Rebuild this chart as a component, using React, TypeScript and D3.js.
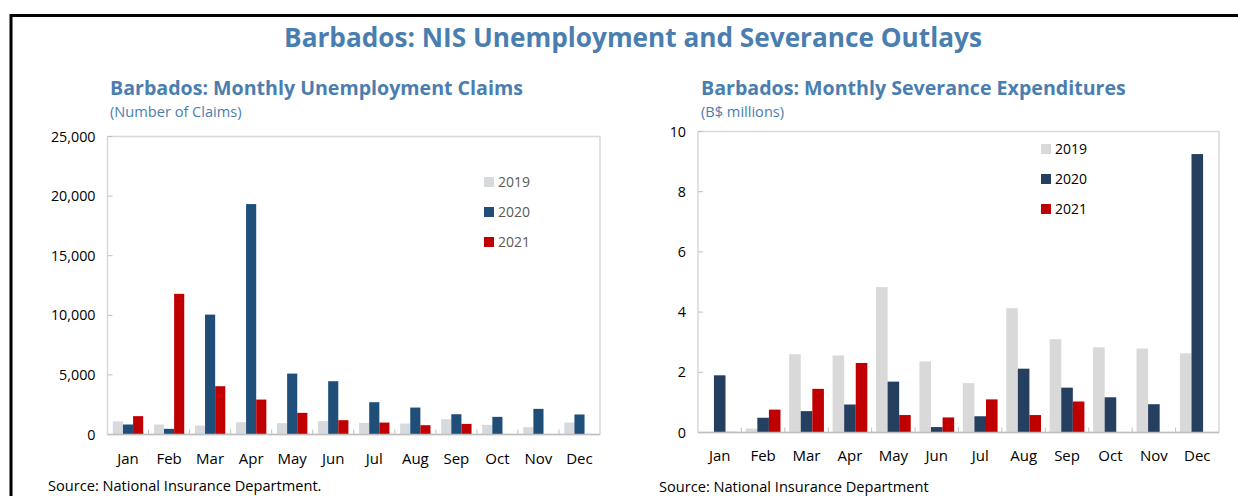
import React from "react";
import * as d3 from "d3";

const months = ["Jan","Feb","Mar","Apr","May","Jun","Jul","Aug","Sep","Oct","Nov","Dec"];
const years = ["2019","2020","2021"];

const claims2019 = [1100, 840, 750, 1030, 950, 1120, 980, 920, 1285, 810, 615, 1005];
const claims2020 = [840, 475, 10060, 19330, 5110, 4470, 2710, 2260, 1700, 1480, 2150, 1680];
const claims2021 = [1540, 11800, 4050, 2930, 1815, 1200, 1000, 780, 890, null, null, null];

const sev2019 = [0, 0.13, 2.6, 2.56, 4.83, 2.36, 1.64, 4.13, 3.1, 2.83, 2.79, 2.63];
const sev2020 = [1.9, 0.49, 0.71, 0.93, 1.69, 0.18, 0.54, 2.12, 1.49, 1.17, 0.94, 9.25];
const sev2021 = [0.02, 0.76, 1.45, 2.31, 0.58, 0.5, 1.1, 0.58, 1.03, null, null, null];

const claimTicks = [0, 5000, 10000, 15000, 20000, 25000];
const sevTicks = [0, 2, 4, 6, 8, 10];

const FONT = "'Open Sans', 'Noto Sans', sans-serif";
const TITLE_BLUE = "#4a7eb0";

type PanelProps = {
  x0: number; x1: number; yTop: number; yBot: number;
  series: (number | null)[][];
  colors: string[];
  max: number; ticks: number[]; fmt: (v: number) => string;
  title: string; subtitle: string; titleX: number;
  legendX: number; legendY: number; legendText: string;
  source: string; sourceX: number; sourceY: number;
  monthY: number; padding: number;
};

function Panel(p: PanelProps) {
  const x = d3.scaleBand<string>().domain(months).range([p.x0, p.x1]).paddingInner(p.padding).paddingOuter(p.padding / 2);
  const xs = d3.scaleBand<string>().domain(years).range([0, x.bandwidth()]);
  const y = d3.scaleLinear().domain([0, p.max]).range([p.yBot, p.yTop]);
  const step = x.step();
  return (
    <g>
      <text x={p.titleX} y={95} fontFamily={FONT} fontWeight={700} fontSize={19.6} fill={TITLE_BLUE}>{p.title}</text>
      <text x={p.titleX} y={117} fontFamily={FONT} fontSize={14.6} fill={TITLE_BLUE}>{p.subtitle}</text>
      <rect x={p.x0} y={p.yTop} width={p.x1 - p.x0} height={p.yBot - p.yTop} fill="none" stroke="#d9d9d9" strokeWidth={1.5} />
      {p.ticks.map((t) => (
        <g key={t}>
          <line x1={p.x0} x2={p.x0 + 5} y1={y(t)} y2={y(t)} stroke="#bfbfbf" />
          <text x={p.x0 - 12} y={y(t)} dy="0.35em" textAnchor="end" fontFamily={FONT} fontSize={14.3} fill="#000">{p.fmt(t)}</text>
        </g>
      ))}
      {months.map((m, i) => (
        <g key={m}>
          {i > 0 && <line x1={p.x0 + step * i} x2={p.x0 + step * i} y1={p.yBot} y2={p.yBot - 5} stroke="#bfbfbf" />}
          {p.series.map((s, si) => {
            const v = s[i];
            if (v == null) return null;
            const bx = (x(m) as number) + (xs(years[si]) as number);
            return <rect key={si} x={bx} y={y(v)} width={xs.bandwidth()} height={p.yBot - y(v)} fill={p.colors[si]} />;
          })}
          <text x={(x(m) as number) + x.bandwidth() / 2} y={p.monthY} textAnchor="middle" fontFamily={FONT} fontSize={15} fill="#000">{m}</text>
        </g>
      ))}
      <line x1={p.x0} x2={p.x1} y1={p.yBot} y2={p.yBot} stroke="#bfbfbf" strokeWidth={1.5} />
      {years.map((yr, i) => (
        <g key={yr}>
          <rect x={p.legendX} y={p.legendY + i * 30 - 5} width={10} height={10} fill={p.colors[i]} />
          <text x={p.legendX + 14} y={p.legendY + i * 30} dy="0.35em" fontFamily={FONT} fontSize={14} fill={p.legendText}>{yr}</text>
        </g>
      ))}
      <text x={p.sourceX} y={p.sourceY} fontFamily={FONT} fontSize={14.6} fill="#000">{p.source}</text>
    </g>
  );
}

export default function App() {
  return (
    <svg width={1238} height={496} style={{ position: "absolute", left: 0, top: 0, background: "#fff" }}>
      <rect x={11} y={15.5} width={1240} height={500} fill="none" stroke="#000" strokeWidth={3} />
      <text x={633} y={47} textAnchor="middle" fontFamily={FONT} fontWeight={700} fontSize={26.2} fill={TITLE_BLUE}>Barbados: NIS Unemployment and Severance Outlays</text>
      <Panel
        x0={107.5} x1={600} yTop={136.5} yBot={434.5}
        series={[claims2019, claims2020, claims2021]}
        colors={["#d6dade", "#1f4e79", "#c00000"]}
        max={25000} ticks={claimTicks} fmt={(v) => d3.format(",")(v)}
        title="Barbados: Monthly Unemployment Claims" subtitle="(Number of Claims)" titleX={110}
        legendX={484} legendY={182} legendText="#595959"
        source="Source: National Insurance Department." sourceX={48} sourceY={491}
        monthY={464} padding={0.26}
      />
      <Panel
        x0={698} x1={1219} yTop={131.5} yBot={432.5}
        series={[sev2019, sev2020, sev2021]}
        colors={["#d9d9d9", "#243f60", "#c00000"]}
        max={10} ticks={sevTicks} fmt={(v) => String(v)}
        title="Barbados: Monthly Severance Expenditures" subtitle="(B$ millions)" titleX={701}
        legendX={1041} legendY={149} legendText="#000"
        source="Source: National Insurance Department" sourceX={659} sourceY={492}
        monthY={461} padding={0.2}
      />
    </svg>
  );
}
